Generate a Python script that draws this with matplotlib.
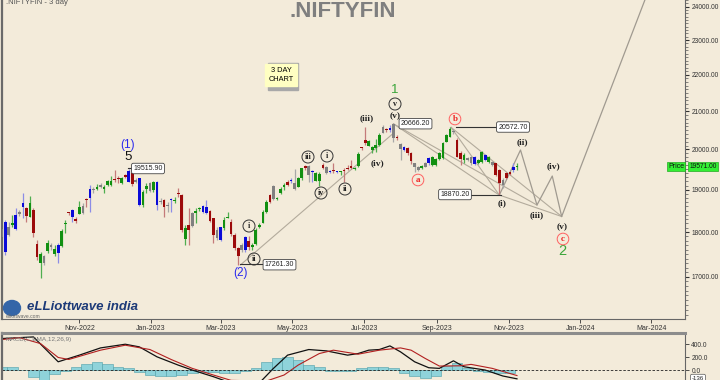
import pandas as pd
import matplotlib
matplotlib.use("Agg")
import matplotlib.pyplot as plt
import matplotlib.patches as mpatches
from matplotlib.ticker import FixedLocator, NullFormatter, FuncFormatter
import matplotlib.dates as mdates

plt.rcParams["font.family"] = ["Liberation Sans", "DejaVu Sans"]

# velas de 3 dias: color, apertura, maximo, minimo, cierre
colores = list("kbkgbkbrgrrgkgkgbggrbrgkrbkgkgggrrgrbrkbggkgbkrkbgrrgrkggbbrrkbggrrrkbrgggggrkgggrbkggrkbggrkbrbgrrrggrrggggkrbkrkbrrkkgkbggggggkrrgkkbggbgkrrkrrbg")
apertura = [17890, 18237, 17930, 18161, 18061, 18430, 18577, 18552, 18355, 18512,
            17726, 17307, 17455, 17575, 17700, 17500, 17530, 17680, 18184, 18450,
            18340, 18300, 18417, 18435, 18760, 18806, 19000, 19016, 19073, 19009,
            19114, 19114, 19253, 19278, 19155, 19359, 19195, 19417, 19195, 19278,
            18631, 19009, 19170, 18992, 19195, 18700, 18750, 18631, 18750, 18726,
            18911, 18871, 17832, 18161, 18138, 18450, 18528, 18473, 18592, 18490,
            18316, 18045, 17816, 18084, 18330, 18230, 17930, 17628, 17703, 17590,
            17800, 17665, 17719, 18107, 18215, 18473, 18710, 19097, 18780, 18911,
            19058, 19114, 19236, 19155, 19058, 19278, 19524, 19582, 19430, 19417,
            19212, 19524, 19566, 19430, 19450, 19450, 19430, 19450, 19530, 19582,
            19530, 19582, 20030, 20160, 20218, 20072, 20030, 20115, 20433, 20510,
            20545, 20660, 20290, 20140, 20072, 20030, 19920, 19650, 19566, 19582,
            19566, 19650, 19608, 19608, 19750, 19775, 20200, 20330, 20485, 20244,
            19920, 19733, 19775, 19817, 19817, 19650, 19690, 19733, 19690, 19690,
            19650, 19483, 19236, 19410, 19430, 19483, 19550]
maximo = [18160, 18277, 18237, 18394, 18552, 18512, 18926, 18592, 18847, 18552,
          17816, 17552, 17478, 17816, 17741, 17703, 17741, 18061, 18277, 18473,
          18528, 18355, 18733, 18671, 18790, 19114, 19058, 19131, 19155, 19114,
          19236, 19334, 19483, 19334, 19302, 19383, 19516, 19483, 19278, 19293,
          18992, 19155, 19195, 19212, 19219, 18790, 18766, 18710, 18790, 18830,
          19033, 18887, 18161, 18552, 18473, 18552, 18592, 18631, 18750, 18512,
          18330, 18107, 18122, 18355, 18473, 18300, 17968, 17665, 17741, 17907,
          17907, 17741, 18084, 18200, 18512, 18750, 18895, 19114, 18830, 19058,
          19155, 19236, 19278, 19500, 19302, 19540, 19608, 19608, 19483, 19441,
          19441, 19650, 19582, 19483, 19650, 19460, 19460, 19524, 19608, 19733,
          19566, 19945, 20072, 20580, 20244, 20090, 20260, 20416, 20635, 20545,
          20635, 20666, 20373, 20160, 20090, 20060, 19930, 19660, 19580, 19600,
          19690, 19800, 19830, 19780, 19945, 20180, 20400, 20573, 20520, 20290,
          19960, 19900, 19800, 19840, 19840, 19750, 19960, 19880, 19840, 19710,
          19670, 19500, 19278, 19430, 19441, 19650, 19650]
minimo = [17860, 17478, 17907, 18122, 18045, 18370, 18317, 18237, 18350, 17877,
          17366, 16978, 17256, 17515, 17590, 17455, 17307, 17665, 17968, 18394,
          18237, 18215, 18417, 18417, 18592, 18473, 18926, 18992, 19033, 18911,
          19097, 19097, 19195, 19170, 19131, 19280, 19180, 19090, 19155, 18607,
          18592, 18926, 18951, 18951, 18512, 18655, 18355, 18473, 18473, 18671,
          18830, 18006, 17703, 17703, 18107, 18200, 18497, 18435, 18417, 18237,
          17755, 17816, 17800, 18045, 18316, 17900, 17590, 17261, 17552, 17552,
          17590, 17590, 17703, 18084, 18200, 18435, 18671, 18750, 18750, 18895,
          18992, 19100, 19155, 18992, 19058, 19236, 19483, 19195, 19195, 19212,
          19090, 19500, 19383, 19417, 19400, 19420, 19359, 19195, 19483, 19500,
          19483, 19566, 19987, 20115, 20080, 19900, 19945, 20090, 20416, 20460,
          20460, 20190, 20244, 19733, 19960, 19860, 19640, 19441, 19460, 19500,
          19550, 19620, 19580, 19580, 19733, 19760, 20180, 20310, 20400, 19800,
          19608, 19650, 19700, 19620, 19608, 19630, 19650, 19720, 19670, 19590,
          19340, 18870, 19040, 19260, 19360, 19440, 19483]
cierre = [18080, 17552, 18122, 18200, 18394, 18450, 18671, 18370, 18671, 17968,
          17440, 17500, 17300, 17741, 17665, 17612, 17703, 18029, 18200, 18435,
          18512, 18260, 18577, 18607, 18740, 19009, 19020, 19058, 19114, 19073,
          19212, 19219, 19230, 19260, 19293, 19302, 19466, 19138, 19236, 18631,
          18951, 19097, 18975, 19195, 18631, 18720, 18592, 18610, 18766, 18750,
          18887, 18045, 18084, 18045, 18450, 18490, 18552, 18607, 18450, 18254,
          17930, 17855, 18107, 18277, 18355, 17960, 17628, 17455, 17590, 17877,
          17652, 17703, 18045, 18161, 18473, 18710, 18871, 18766, 18800, 19009,
          19114, 19195, 19212, 19009, 19278, 19524, 19582, 19359, 19450, 19219,
          19383, 19608, 19400, 19450, 19466, 19430, 19450, 19466, 19515, 19524,
          19515, 19878, 20060, 20244, 20100, 19987, 20115, 20373, 20580, 20530,
          20503, 20288, 20310, 20000, 19987, 19900, 19700, 19566, 19483, 19524,
          19650, 19775, 19817, 19750, 19920, 20160, 20373, 20520, 20440, 19817,
          19750, 19860, 19733, 19650, 19630, 19733, 19945, 19860, 19817, 19608,
          19359, 19155, 19114, 19285, 19383, 19566, 19571]
fechas = pd.date_range("2022-08-27", periods=len(cierre), freq="3D")

# proyeccion de la onda 2: (i) (ii) (iii) (iv) (v) y salida
proy_fechas = pd.to_datetime(["2023-10-24", "2023-11-11", "2023-11-25", "2023-12-08",
                              "2023-12-16", "2024-02-28"])
proy_precios = [18870, 19987, 18631, 19334, 18360, 24517]

# lineas de canal (inicio, fin)
canal_fechas = [("2023-03-18", "2023-07-26"), ("2023-07-26", "2023-10-24"),
                ("2023-09-13", "2023-10-24"), ("2023-07-26", "2023-11-25"),
                ("2023-09-13", "2023-12-16"), ("2023-10-24", "2023-12-16")]
canal_precios = [(17261, 20420), (20666, 18870), (20573, 18870), (20666, 18631),
                 (20573, 18360), (18870, 18360)]

macd_idx = [0, 9, 16, 22, 28, 35, 39, 44, 50, 54, 60, 65, 73, 77, 81, 87, 92, 98,
            101, 104, 107, 110, 113, 117, 121, 124, 128, 131, 137, 142, 146]
macd_val = [488, 513, 128, 231, 343, 400, 359, 205, 77, 0, -103, -200, -200, 26, 231,
            318, 297, 231, 256, 308, 318, 374, 282, 128, 36, 26, 143, 51, 0, -92, -136]
senal_idx = [0, 5, 11, 16, 19, 28, 35, 42, 48, 54, 60, 65, 75, 80, 84, 90, 94, 101,
             107, 113, 116, 120, 124, 130, 133, 139, 146]
senal_val = [472, 503, 410, 195, 164, 308, 385, 318, 164, 26, -77, -160, -170, -77, 77,
             256, 308, 246, 308, 343, 308, 180, 62, 66, 88, 26, -85]
hist_idx = list(range(0, 147, 3))
hist_val = [50, 40, 0, -100, -150, -60, -20, 40, 100, 128, 90, 40, 30, -30, -70, -90,
            -90, -70, -40, -30, -30, -40, -40, -20, 30, 120, 190, 205, 150, 80, 40, -10,
            -20, -10, 30, 50, 50, 30, -40, -90, -120, -90, 60, 108, 30, -20, -30, -40, -40]

niveles = [17000, 18000, 19000, 20000, 21000, 22000, 23000, 24000]
meses = pd.to_datetime(["2022-11-01", "2023-01-01", "2023-03-01", "2023-05-01",
                        "2023-07-01", "2023-09-01", "2023-11-01", "2024-01-01",
                        "2024-03-01"])

FONDO = "#f3ebda"
paleta = {"g": "#119011", "r": "#9c0a0a", "b": "#0a0ad8", "k": "#808080"}
mecha = {"g": "#4fae4f", "r": "#c47a7a", "b": "#8c8ce6", "k": "#a8a8a8"}


def px(x, y):
    return x / 720, 1 - y / 380


fig = plt.figure(figsize=(7.2, 3.8), dpi=100, facecolor=FONDO)
ax = fig.add_axes([2 / 720, 61 / 380, 683 / 720, 319 / 380], facecolor=FONDO)

for f, c, o, h, l, cl in zip(fechas, colores, apertura, maximo, minimo, cierre):
    ax.vlines(f, l, h, color=mecha[c], lw=0.9, zorder=2)
    ax.bar(f, max(abs(cl - o), 28), width=2.3, bottom=min(o, cl), color=paleta[c],
           lw=0, zorder=3)

for (f0, f1), (p0, p1) in zip(canal_fechas, canal_precios):
    ax.plot(pd.to_datetime([f0, f1]), [p0, p1], color="#b3ab9c", lw=0.8, zorder=1)
ax.plot(proy_fechas, proy_precios, color="#a09a90", lw=0.9, zorder=1)

ax.set_yscale("log")
ax.set_ylim(16108, 24206)
ax.set_xlim(pd.Timestamp("2022-08-27 06:00"), pd.Timestamp("2024-03-29 20:00"))
ax.yaxis.tick_right()
ax.yaxis.set_major_locator(FixedLocator(niveles))
ax.yaxis.set_minor_locator(FixedLocator(range(16200, 24300, 100)))
ax.yaxis.set_major_formatter(FuncFormatter(lambda v, p: f"{v:.2f}"))
ax.yaxis.set_minor_formatter(NullFormatter())
ax.tick_params(axis="y", which="major", length=3, width=0.8, labelsize=4.8,
               colors="#333333", pad=1.5)
ax.tick_params(axis="y", which="minor", length=2, width=0.5, colors="#555555")
ax.xaxis.set_major_locator(FixedLocator(mdates.date2num(meses)))
ax.xaxis.set_major_formatter(mdates.DateFormatter("%b-%Y"))
ax.tick_params(axis="x", length=3, width=0.6, labelsize=5, colors="#333333", pad=1.5)
ax.spines["top"].set_visible(False)
ax.spines["left"].set_color("#6a6a6a")
ax.spines["left"].set_linewidth(1.6)
for lado in ("right", "bottom"):
    ax.spines[lado].set_color("#666666")
    ax.spines[lado].set_linewidth(0.8)

# panel MACD
ax2 = fig.add_axes([2 / 720, 0, 683 / 720, 47 / 380], facecolor=FONDO)
ax2.bar(fechas[hist_idx], hist_val, width=9, color="#8fd3da", edgecolor="#4c9fa8", lw=0.4)
ax2.plot(fechas[macd_idx], macd_val, color="#111111", lw=0.9)
ax2.plot(fechas[senal_idx], senal_val, color="#b22020", lw=0.8)
ax2.axhline(0, color="#222222", lw=0.6, ls=(0, (3, 2)))
ax2.set_xlim(ax.get_xlim())
ax2.set_ylim(-154, 574)
ax2.yaxis.tick_right()
ax2.set_yticks([0, 200, 400])
ax2.yaxis.set_major_formatter(FuncFormatter(lambda v, p: f"{v:.1f}"))
ax2.tick_params(axis="y", length=3, width=0.6, labelsize=4.8, colors="#333333", pad=1.5)
ax2.set_xticks([])
ax2.spines["top"].set_color("#8c8c8c")
ax2.spines["top"].set_linewidth(2.2)
ax2.spines["left"].set_color("#6a6a6a")
ax2.spines["left"].set_linewidth(1.6)
ax2.spines["right"].set_color("#666666")
ax2.spines["bottom"].set_visible(False)
fig.text(*px(6, 340), "MACD(C,EMA,12,26,9)", fontsize=4.6, color="#777777", va="center")
fig.text(*px(698, 378), "-136", fontsize=4.4, color="#222222", va="center", ha="center",
         bbox=dict(boxstyle="round,pad=0.2", fc="white", ec="#555555", lw=0.5))

# titulo y rotulos
fig.text(*px(342.5, 16.7), ".NIFTYFIN", fontsize=16, fontweight="bold", color="#7f7f7f",
         ha="center", va="baseline")
fig.text(*px(6, 3.5), ".NIFTYFIN - 3 day", fontsize=5.5, color="#555555", va="baseline")
fig.text(*px(281, 75), "3 DAY\nCHART", fontsize=5.3, ha="center", va="center",
         linespacing=1.3,
         bbox=dict(boxstyle="square,pad=0.5", fc="#ffffc2", ec="#ffffc2"))
fig.patches.append(mpatches.Rectangle(px(268, 90), 30 / 720, 27 / 380,
                                      transform=fig.transFigure, color="#a8a8a8",
                                      zorder=0))

for x, y, t, col, fs in [(128, 145, "(1)", "#2a2aee", 8.5), (128, 157, "5", "#111111", 9.5),
                         (241, 273, "(2)", "#2a2aee", 8.5), (395, 90, "1", "#3aa53a", 9.5),
                         (562, 251, "2", "#3aa53a", 10.5)]:
    fig.text(*px(x, y), t, fontsize=fs, color=col, ha="center", va="center")

serif = ["Liberation Serif", "DejaVu Serif"]
for x, y, t in [(367, 118, "(iii)"), (395, 116, "(v)"), (377, 163, "(iv)"),
                (502, 203, "(i)"), (522, 142, "(ii)"), (537, 215, "(iii)"),
                (553, 166, "(iv)"), (562, 227, "(v)")]:
    fig.text(*px(x, y), t, fontsize=6.8, fontweight="bold", family=serif,
             color="#222222", ha="center", va="center")

for x, y, t in [(395, 104, "v"), (308, 157, "iii"), (327, 156, "i"), (321, 193, "iv"),
                (345, 189, "ii"), (249, 226, "i"), (254, 259, "ii")]:
    fig.text(*px(x, y), t, fontsize=5.8, fontweight="bold", family=serif, color="#222222",
             ha="center", va="center",
             bbox=dict(boxstyle="circle,pad=0.25", fc="none", ec="#333333", lw=0.7))

for x, y, t in [(418, 180, "a"), (455, 119, "b"), (563, 239, "c")]:
    fig.text(*px(x, y), t, fontsize=6.5, fontweight="bold", family=serif, color="#ee2020",
             ha="center", va="center",
             bbox=dict(boxstyle="circle,pad=0.2", fc="none", ec="#ff6060", lw=0.7))

for x, y, t in [(148, 168.5, "19515.90"), (415.5, 123.7, "20666.20"),
                (513, 127, "20572.70"), (455, 194.5, "18870.20"), (279.5, 264.7, "17261.30")]:
    fig.text(*px(x, y), t, fontsize=5, color="#222222", ha="center", va="center",
             bbox=dict(boxstyle="round,pad=0.25", fc="white", ec="#444444", lw=0.6))
for x0, x1, y in [(128, 133, 168), (456, 498, 127), (470, 501, 194.7), (240, 265, 264)]:
    fig.add_artist(plt.Line2D([x0 / 720, x1 / 720], [1 - y / 380] * 2, color="#333333",
                              lw=0.8, transform=fig.transFigure))

fig.text(*px(676, 166.5), "Price", fontsize=5, color="#111111", ha="center", va="center",
         bbox=dict(boxstyle="square,pad=0.2", fc="#33ee33", ec="#22aa22", lw=0.5))
fig.text(*px(703, 166.5), "19571.00", fontsize=4.8, color="#111111", ha="center",
         va="center", bbox=dict(boxstyle="square,pad=0.2", fc="#33ee33", ec="#22aa22", lw=0.5))

# logo
fig.patches.append(mpatches.Ellipse(px(12, 308), 17 / 720, 15 / 380,
                                    transform=fig.transFigure, color="#3566a8"))
fig.text(*px(27, 307), "eLLiottwave india", fontsize=9.5, fontweight="bold",
         style="italic", color="#1d3a78", va="center")
fig.text(*px(6, 317), "elliottwave.com", fontsize=3.6, color="#666666", va="center")

plt.savefig("out.png", dpi=100, facecolor=FONDO)
